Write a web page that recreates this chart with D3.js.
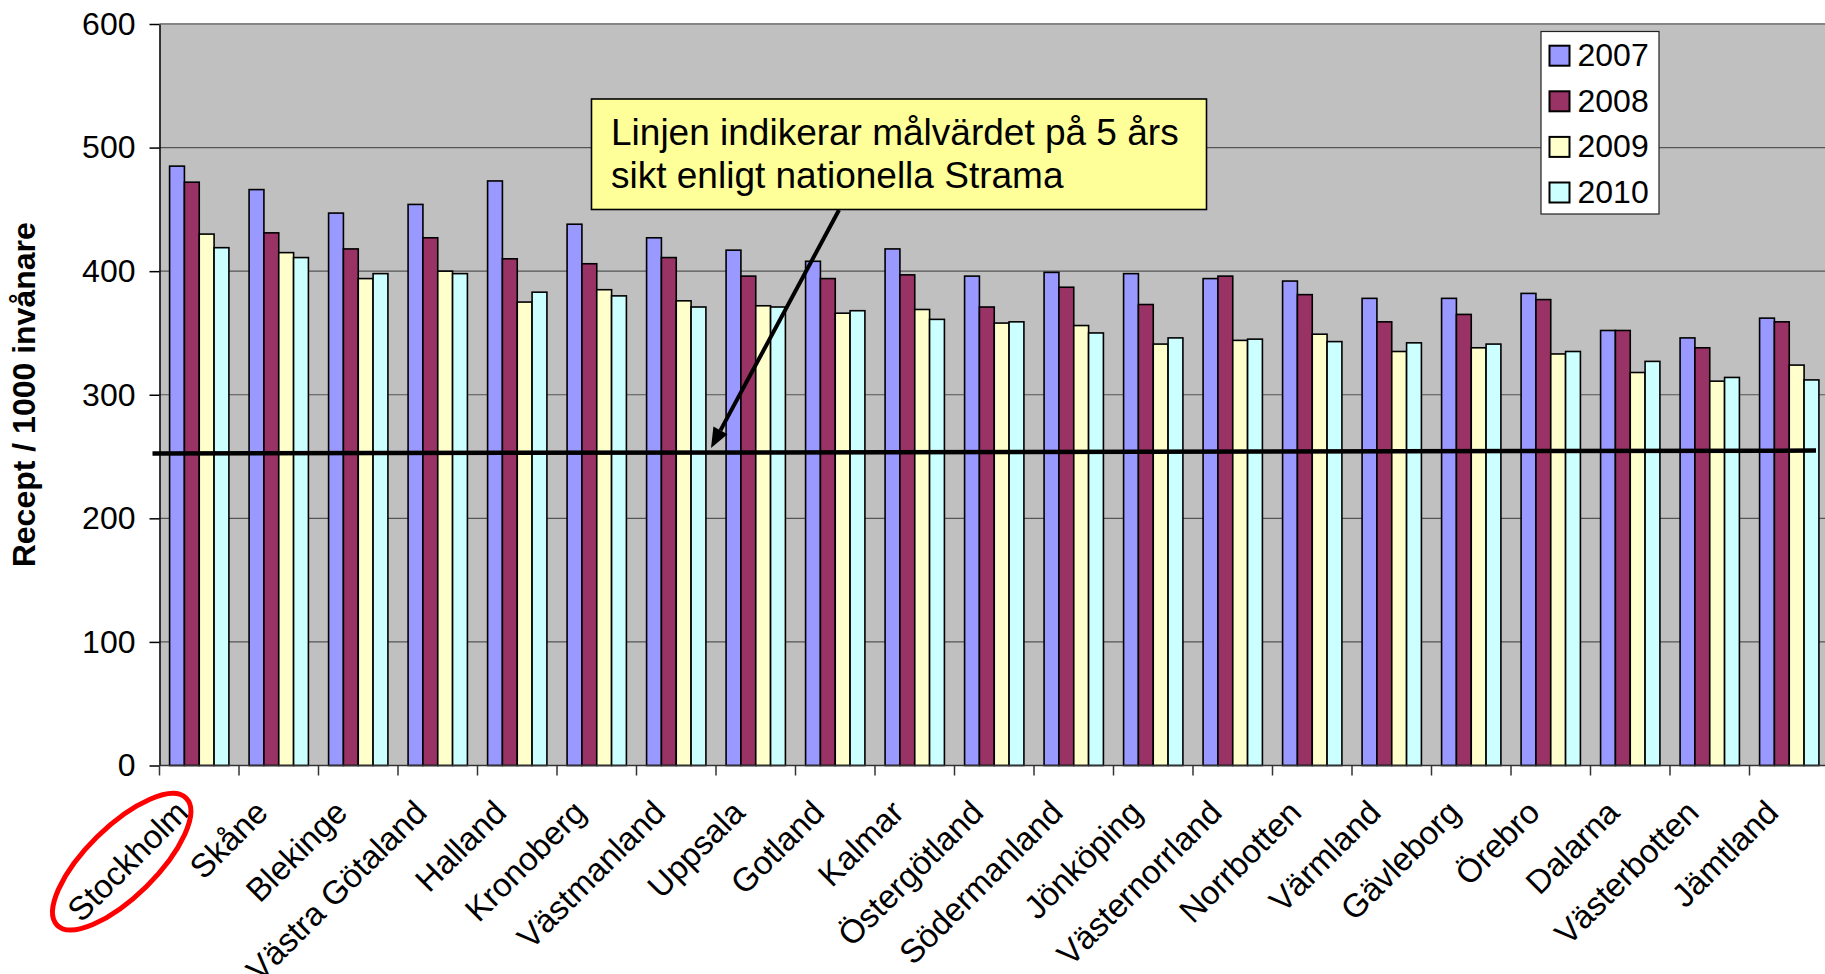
<!DOCTYPE html>
<html><head><meta charset="utf-8">
<script src="https://cdn.jsdelivr.net/npm/d3@7"></script>
<style>body{margin:0;background:#fff;overflow:hidden}</style>
</head><body>
<svg id="chart" width="1825" height="974"></svg>
<script>
const categories = ["Stockholm","Skåne","Blekinge","Västra Götaland","Halland","Kronoberg","Västmanland","Uppsala","Gotland","Kalmar","Östergötland","Södermanland","Jönköping","Västernorrland","Norrbotten","Värmland","Gävleborg","Örebro","Dalarna","Västerbotten","Jämtland"];
const years = ["2007","2008","2009","2010"];
const values2007 = [485,466,447,454,473,438,427,417,408,418,396,399,398,394,392,378,378,382,352,346,362];
const values2008 = [472,431,418,427,410,406,411,396,394,397,371,387,373,396,381,359,365,377,352,338,359];
const values2009 = [430,415,394,400,375,385,376,372,366,369,358,356,341,344,349,335,338,333,318,311,324];
const values2010 = [419,411,398,398,383,380,371,371,368,361,359,350,346,345,343,342,341,335,327,314,312];
const yTicks = [0,100,200,300,400,500,600];
const targetLine = [252.5, 254.8];
const annotationLines = ["Linjen indikerar målvärdet på 5 års","sikt enligt nationella Strama"];
const yTitle = "Recept / 1000 invånare";
const colors = ["#9999FF","#993366","#FFFFCC","#CCFFFF"];

const series = [values2007, values2008, values2009, values2010];
const FONT = "'Liberation Sans', Arial, sans-serif";
const W = 1825, H = 974;
const plotLeft = 159.5, plotRight = 1829, plotTop = 24, plotBottom = 765.5;

const svg = d3.select("#chart").style("font-family", FONT);
const x0 = d3.scaleBand().domain(categories).range([plotLeft, plotRight]).padding(0);
const x1 = d3.scaleBand().domain(years).range([0, x0.bandwidth()]).paddingInner(0).paddingOuter(0.68);
const y = d3.scaleLinear().domain([0, 600]).range([plotBottom, plotTop]);

// plot background
svg.append("rect").attr("x", plotLeft).attr("y", plotTop)
  .attr("width", W - plotLeft).attr("height", plotBottom - plotTop).attr("fill", "#C0C0C0");

// gridlines
svg.append("g").selectAll("line").data(yTicks.filter(d => d > 0 && d < 600)).join("line")
  .attr("x1", plotLeft).attr("x2", W).attr("y1", d => y(d)).attr("y2", d => y(d))
  .attr("stroke", "#555").attr("stroke-width", 1.2);
svg.append("line").attr("x1", plotLeft).attr("x2", W).attr("y1", y(600)).attr("y2", y(600))
  .attr("stroke", "#858585").attr("stroke-width", 2.2);

// bars
const groups = svg.append("g").selectAll("g").data(categories).join("g")
  .attr("transform", c => `translate(${x0(c)},0)`);
groups.selectAll("rect").data((c, i) => years.map((yr, k) => ({yr, k, v: series[k][i]}))).join("rect")
  .attr("x", d => x1(d.yr)).attr("width", x1.bandwidth())
  .attr("y", d => y(d.v)).attr("height", d => y(0) - y(d.v))
  .attr("fill", d => colors[d.k]).attr("stroke", "#000").attr("stroke-width", 1.6);

// y axis
const yAxis = d3.axisLeft(y).tickValues(yTicks).tickSize(10).tickSizeOuter(0).tickPadding(14);
const gy = svg.append("g").attr("transform", `translate(${plotLeft},0)`).call(yAxis);
gy.select(".domain").attr("stroke", "#000").attr("stroke-width", 1.5);
gy.selectAll(".tick line").attr("stroke", "#000").attr("stroke-width", 1.5);
gy.selectAll(".tick text").attr("font-size", 32).attr("font-family", FONT).attr("fill", "#000");

// x axis
svg.append("line").attr("x1", plotLeft).attr("x2", W).attr("y1", plotBottom).attr("y2", plotBottom)
  .attr("stroke", "#333").attr("stroke-width", 1.5);
svg.append("g").selectAll("line").data(categories).join("line")
  .attr("x1", c => x0(c)).attr("x2", c => x0(c)).attr("y1", plotBottom).attr("y2", plotBottom + 10)
  .attr("stroke", "#333").attr("stroke-width", 1.5);
svg.append("g").selectAll("text").data(categories).join("text")
  .attr("transform", c => `translate(${x0(c) + x0.bandwidth() / 2 - 9},${plotBottom + 49}) rotate(-45)`)
  .attr("text-anchor", "end").attr("font-size", 33).attr("fill", "#000").text(c => c);

// target line
svg.append("line").attr("x1", plotLeft - 7).attr("x2", W - 9)
  .attr("y1", y(targetLine[0])).attr("y2", y(targetLine[1]))
  .attr("stroke", "#000").attr("stroke-width", 4.5);

// y title
svg.append("text").attr("transform", `translate(35,${(plotTop + plotBottom) / 2}) rotate(-90)`)
  .attr("text-anchor", "middle").attr("font-size", 32).attr("font-weight", "bold").text(yTitle);

// annotation box
svg.append("rect").attr("x", 591.5).attr("y", 99).attr("width", 615).attr("height", 110.5)
  .attr("fill", "#FFFF99").attr("stroke", "#000").attr("stroke-width", 1.6);
svg.append("g").selectAll("text").data(annotationLines).join("text")
  .attr("x", 611).attr("y", (d, i) => 145 + i * 42.5).attr("font-size", 37).text(d => d);

// arrow
const ax1 = 839, ay1 = 210, ax2 = 711, ay2 = 448;
const ang = Math.atan2(ay2 - ay1, ax2 - ax1);
const hl = 20, hw = 8;
const bx = ax2 - hl * Math.cos(ang), by = ay2 - hl * Math.sin(ang);
svg.append("line").attr("x1", ax1).attr("y1", ay1).attr("x2", bx).attr("y2", by)
  .attr("stroke", "#000").attr("stroke-width", 4);
svg.append("polygon").attr("points", [
  [ax2, ay2],
  [bx + hw * Math.sin(ang), by - hw * Math.cos(ang)],
  [bx - hw * Math.sin(ang), by + hw * Math.cos(ang)]
].map(p => p.join(",")).join(" ")).attr("fill", "#000");

// legend
const lg = svg.append("g");
lg.append("rect").attr("x", 1541).attr("y", 31.5).attr("width", 118).attr("height", 182.5)
  .attr("fill", "#fff").attr("stroke", "#222").attr("stroke-width", 1.2);
const li = lg.selectAll("g").data(years).join("g")
  .attr("transform", (d, i) => `translate(1549.5,${45.7 + i * 45.6})`);
li.append("rect").attr("width", 20).attr("height", 20).attr("fill", (d, i) => colors[i])
  .attr("stroke", "#000").attr("stroke-width", 2);
li.append("text").attr("x", 28).attr("y", 20.5).attr("font-size", 32).text(d => d);

// red ellipse around Stockholm
svg.append("ellipse").attr("cx", 0).attr("cy", 0).attr("rx", 90.5).attr("ry", 35)
  .attr("transform", "translate(121.7,861.7) rotate(-44.5)")
  .attr("fill", "none").attr("stroke", "#FF0000").attr("stroke-width", 5);
</script>
</body></html>
